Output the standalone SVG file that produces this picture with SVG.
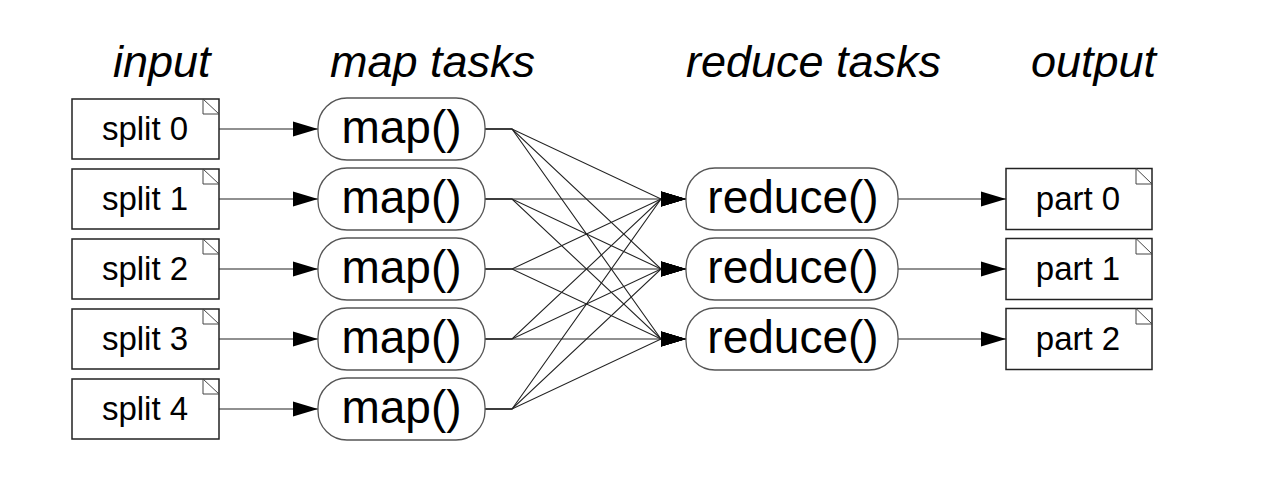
<svg xmlns="http://www.w3.org/2000/svg" width="1268" height="487" viewBox="0 0 1268 487">
<style>
.bg{fill:#fff}
.doc{fill:#fff;stroke:#222;stroke-width:1.5}
.fold{fill:none;stroke:#444;stroke-width:1}
.task{fill:#fff;stroke:#555;stroke-width:1.3}
.t{font-family:"Liberation Sans",Arial,sans-serif;fill:#000}
.small{font-size:33px;text-anchor:middle}
.big{font-size:46px;text-anchor:middle}
.title{font-size:45px;font-style:italic}
.c{fill:none;stroke:#222;stroke-width:1.1;marker-end:url(#ah)}
</style>
<defs>
<marker id="ah" markerUnits="userSpaceOnUse" markerWidth="26" markerHeight="16" refX="25" refY="8" orient="auto">
<path d="M0,0.5 L25,8 L0,15.5 Z" fill="#000"/>
</marker>
</defs>
<rect class="bg" x="0" y="0" width="1268" height="487"/>
<g id="titles">
<text class="t title" x="113" y="77">input</text>
<text class="t title" x="330" y="77">map tasks</text>
<text class="t title" x="686" y="77">reduce tasks</text>
<text class="t title" x="1031" y="77">output</text>
</g>
<g id="connectors">
<line class="c" x1="219" y1="129" x2="318" y2="129"/>
<line class="c" x1="219" y1="199" x2="318" y2="199"/>
<line class="c" x1="219" y1="269" x2="318" y2="269"/>
<line class="c" x1="219" y1="339" x2="318" y2="339"/>
<line class="c" x1="219" y1="409" x2="318" y2="409"/>
<polyline class="c" points="485,129 512,129 661,199 686,199"/>
<polyline class="c" points="485,129 512,129 661,269 686,269"/>
<polyline class="c" points="485,129 512,129 661,339 686,339"/>
<polyline class="c" points="485,199 512,199 661,199 686,199"/>
<polyline class="c" points="485,199 512,199 661,269 686,269"/>
<polyline class="c" points="485,199 512,199 661,339 686,339"/>
<polyline class="c" points="485,269 512,269 661,199 686,199"/>
<polyline class="c" points="485,269 512,269 661,269 686,269"/>
<polyline class="c" points="485,269 512,269 661,339 686,339"/>
<polyline class="c" points="485,339 512,339 661,199 686,199"/>
<polyline class="c" points="485,339 512,339 661,269 686,269"/>
<polyline class="c" points="485,339 512,339 661,339 686,339"/>
<polyline class="c" points="485,409 512,409 661,199 686,199"/>
<polyline class="c" points="485,409 512,409 661,269 686,269"/>
<polyline class="c" points="485,409 512,409 661,339 686,339"/>
<line class="c" x1="898" y1="199" x2="1006" y2="199"/>
<line class="c" x1="898" y1="269" x2="1006" y2="269"/>
<line class="c" x1="898" y1="339" x2="1006" y2="339"/>
</g>
<g id="split0"><rect class="doc" x="72" y="99" width="147" height="60"/><path class="fold" d="M203,99 V114 H219 M203,99 L219,114"/><text class="t small" x="145" y="140">split 0</text></g>
<g id="split1"><rect class="doc" x="72" y="169" width="147" height="60"/><path class="fold" d="M203,169 V184 H219 M203,169 L219,184"/><text class="t small" x="145" y="210">split 1</text></g>
<g id="split2"><rect class="doc" x="72" y="239" width="147" height="60"/><path class="fold" d="M203,239 V254 H219 M203,239 L219,254"/><text class="t small" x="145" y="280">split 2</text></g>
<g id="split3"><rect class="doc" x="72" y="309" width="147" height="60"/><path class="fold" d="M203,309 V324 H219 M203,309 L219,324"/><text class="t small" x="145" y="350">split 3</text></g>
<g id="split4"><rect class="doc" x="72" y="379" width="147" height="60"/><path class="fold" d="M203,379 V394 H219 M203,379 L219,394"/><text class="t small" x="145" y="420">split 4</text></g>
<g id="map0"><rect class="task" x="318" y="98" width="167" height="62" rx="29" ry="29"/><text class="t big" x="401.5" y="143">map()</text></g>
<g id="map1"><rect class="task" x="318" y="168" width="167" height="62" rx="29" ry="29"/><text class="t big" x="401.5" y="213">map()</text></g>
<g id="map2"><rect class="task" x="318" y="238" width="167" height="62" rx="29" ry="29"/><text class="t big" x="401.5" y="283">map()</text></g>
<g id="map3"><rect class="task" x="318" y="308" width="167" height="62" rx="29" ry="29"/><text class="t big" x="401.5" y="353">map()</text></g>
<g id="map4"><rect class="task" x="318" y="378" width="167" height="62" rx="29" ry="29"/><text class="t big" x="401.5" y="423">map()</text></g>
<g id="reduce0"><rect class="task" x="686" y="168" width="212" height="62" rx="29" ry="29"/><text class="t big" x="793" y="213">reduce()</text></g>
<g id="reduce1"><rect class="task" x="686" y="238" width="212" height="62" rx="29" ry="29"/><text class="t big" x="793" y="283">reduce()</text></g>
<g id="reduce2"><rect class="task" x="686" y="308" width="212" height="62" rx="29" ry="29"/><text class="t big" x="793" y="353">reduce()</text></g>
<g id="part0"><rect class="doc" x="1006" y="168.5" width="146" height="61"/><path class="fold" d="M1136,168.5 V184 H1152 M1136,168.5 L1152,184"/><text class="t small" x="1078" y="210">part 0</text></g>
<g id="part1"><rect class="doc" x="1006" y="238.5" width="146" height="61"/><path class="fold" d="M1136,238.5 V254 H1152 M1136,238.5 L1152,254"/><text class="t small" x="1078" y="280">part 1</text></g>
<g id="part2"><rect class="doc" x="1006" y="308.5" width="146" height="61"/><path class="fold" d="M1136,308.5 V324 H1152 M1136,308.5 L1152,324"/><text class="t small" x="1078" y="350">part 2</text></g>
</svg>
